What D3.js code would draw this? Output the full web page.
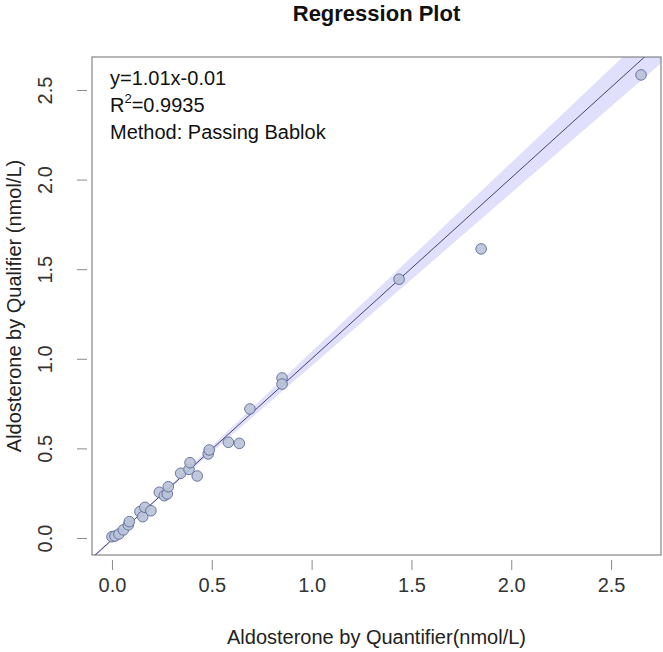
<!DOCTYPE html>
<html>
<head>
<meta charset="utf-8">
<script src="https://cdn.jsdelivr.net/npm/d3@7"></script>
<style>
body { margin: 0; background: #fff; }
svg { display: block; font-family: "Liberation Sans", Arial, sans-serif; }
</style>
</head>
<body>
<svg id="chart" width="663" height="652"></svg>
<script>
// points (quantifier, qualifier)
var quantifier = [0.00, 0.015, 0.035, 0.057, 0.082, 0.087, 0.14, 0.154, 0.165, 0.195,
    0.237, 0.262, 0.277, 0.282, 0.344, 0.386, 0.391, 0.427, 0.482, 0.487,
    0.583, 0.638, 0.691, 0.852, 0.852, 1.438, 1.849, 2.65];
var qualifier = [0.007, 0.011, 0.022, 0.045, 0.073, 0.091, 0.147, 0.119, 0.171, 0.152,
    0.255, 0.236, 0.246, 0.286, 0.361, 0.383, 0.42, 0.346, 0.469, 0.491,
    0.534, 0.528, 0.72, 0.893, 0.859, 1.444, 1.613, 2.584];
var xTicks = [0, 0.5, 1, 1.5, 2, 2.5];
var yTicks = [0, 0.5, 1, 1.5, 2, 2.5];
var fit = { slope: 1.01, intercept: -0.01 };
var bandLow = { slope: 0.965, intercept: -0.005 };
var bandHigh = { slope: 1.055, intercept: -0.015 };
var notes = ["y=1.01x-0.01", "R2=0.9935", "Method: Passing Bablok"];

var box = { left: 92, right: 661, top: 57, bottom: 555 };
var svg = d3.select("#chart");

var xScale = d3.scaleLinear().domain([-0.1, 2.75]).range([box.left, box.right]);
var yScale = d3.scaleLinear().domain([-0.095, 2.684]).range([box.bottom, box.top]);

svg.append("defs").append("clipPath")
    .attr("id", "clip")
    .append("rect")
    .attr("x", box.left)
    .attr("y", box.top)
    .attr("width", box.right - box.left)
    .attr("height", box.bottom - box.top);

var plot = svg.append("g").attr("clip-path", "url(#clip)");

// confidence band, from one edge of x domain to the other
var xd = xScale.domain();
var bandPts = [
    [xd[0], bandHigh.intercept + bandHigh.slope * xd[0]],
    [xd[1], bandHigh.intercept + bandHigh.slope * xd[1]],
    [xd[1], bandLow.intercept + bandLow.slope * xd[1]],
    [xd[0], bandLow.intercept + bandLow.slope * xd[0]]
];
plot.append("path")
    .attr("d", d3.line().x(function (d) { return xScale(d[0]); }).y(function (d) { return yScale(d[1]); })(bandPts) + "Z")
    .style("fill", "#e0e0fc")
    .style("stroke", "none");

plot.append("line")
    .attr("x1", xScale(xd[0]))
    .attr("y1", yScale(fit.intercept + fit.slope * xd[0]))
    .attr("x2", xScale(xd[1]))
    .attr("y2", yScale(fit.intercept + fit.slope * xd[1]))
    .style("stroke", "#30305e")
    .style("stroke-width", 0.9);

var points = quantifier.map(function (q, i) { return [q, qualifier[i]]; });
plot.selectAll("circle")
    .data(points)
    .enter().append("circle")
    .attr("cx", function (d) { return xScale(d[0]); })
    .attr("cy", function (d) { return yScale(d[1]); })
    .attr("r", 5.3)
    .style("fill", "#b9c2d7")
    .style("fill-opacity", 0.9)
    .style("stroke", "#5a6a9c")
    .style("stroke-width", 0.9);

// frame
svg.append("rect")
    .attr("x", box.left)
    .attr("y", box.top)
    .attr("width", box.right - box.left)
    .attr("height", box.bottom - box.top)
    .style("fill", "none")
    .style("stroke", "#6e6e6e")
    .style("stroke-width", 1);

// axes: ticks only, no axis line, set off from the frame
var xAxis = d3.axisBottom(xScale).tickValues(xTicks).tickFormat(d3.format(".1f")).tickSize(10).tickPadding(8);
var gx = svg.append("g")
    .attr("transform", "translate(0," + (box.bottom + 5) + ")")
    .call(xAxis);
gx.select(".domain").remove();
gx.selectAll(".tick line").style("stroke", "#8a8a8a");
gx.selectAll(".tick text").style("font-size", "20px").style("fill", "#333");

var yAxis = d3.axisLeft(yScale).tickValues(yTicks).tickFormat(d3.format(".1f")).tickSize(10).tickPadding(10);
var gy = svg.append("g")
    .attr("transform", "translate(" + (box.left - 5) + ",0)")
    .call(yAxis);
gy.select(".domain").remove();
gy.selectAll(".tick line").style("stroke", "#8a8a8a");
gy.selectAll(".tick text")
    .style("font-size", "20px")
    .style("fill", "#333")
    .attr("x", 0)
    .attr("dy", 0)
    .attr("text-anchor", "middle")
    .attr("transform", "translate(-42,0) rotate(-90) translate(0,7)");

// titles
svg.append("text")
    .attr("x", (box.left + box.right) / 2)
    .attr("y", 21)
    .attr("text-anchor", "middle")
    .style("font-size", "22px")
    .style("font-weight", "bold")
    .style("fill", "#111")
    .text("Regression Plot");

svg.append("text")
    .attr("x", (box.left + box.right) / 2)
    .attr("y", 644)
    .attr("text-anchor", "middle")
    .style("font-size", "20px")
    .style("fill", "#222")
    .text("Aldosterone by Quantifier(nmol/L)");

svg.append("text")
    .attr("transform", "translate(21," + (box.top + box.bottom) / 2 + ") rotate(-90)")
    .attr("text-anchor", "middle")
    .style("font-size", "20px")
    .style("fill", "#222")
    .text("Aldosterone by Qualifier (nmol/L)");

// annotation block
var noteG = svg.append("g").style("font-size", "20px").style("fill", "#111");
noteG.append("text").attr("x", 110).attr("y", 85).text(notes[0]);
var r2 = noteG.append("text").attr("x", 110).attr("y", 112);
r2.append("tspan").text("R");
r2.append("tspan").attr("dy", -9).style("font-size", "13px").text("2");
r2.append("tspan").attr("dy", 9).text(notes[1].slice(2));
noteG.append("text").attr("x", 110).attr("y", 139).text(notes[2]);
</script>
</body>
</html>
